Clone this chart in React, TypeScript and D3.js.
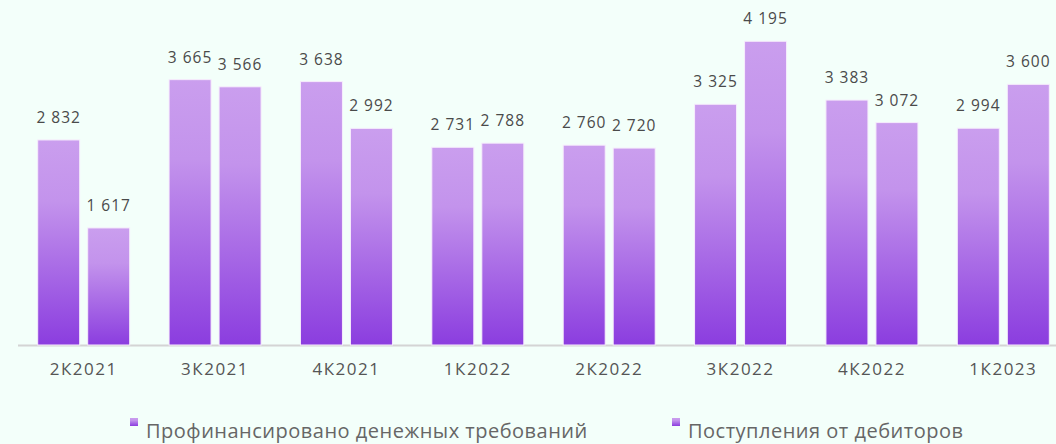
import React, { useRef, useEffect } from 'react';
import * as d3 from 'd3';

const categories = ['2К2021', '3К2021', '4К2021', '1К2022', '2К2022', '3К2022', '4К2022', '1К2023'];
const financed = [2832, 3665, 3638, 2731, 2760, 3325, 3383, 2994];
const receipts = [1617, 3566, 2992, 2788, 2720, 4195, 3072, 3600];
const seriesNames = ['Профинансировано денежных требований', 'Поступления от дебиторов'];

const W = 1056;
const H = 444;

const App: React.FC = () => {
	const svgRef = useRef<SVGSVGElement | null>(null);

	useEffect(() => {
		document.body.style.margin = '0';
		document.body.style.background = '#f3fffa';
		if (!svgRef.current) return;

		const svg = d3.select(svgRef.current);
		svg.selectAll('*').remove();

		const baseline = 345;
		const font = '"Open Sans", sans-serif';

		const x = d3.scaleBand<string>()
			.domain(categories)
			.range([18, 1069])
			.paddingInner(0)
			.paddingOuter(0);
		const inner = d3.scaleBand<number>()
			.domain([0, 1])
			.range([0, 92])
			.paddingInner(8 / 50);
		const y = d3.scaleLinear().domain([0, 4765]).range([baseline, 0]);

		svg.append('rect').attr('width', W).attr('height', H).attr('fill', '#f3fffa');

		const defs = svg.append('defs');
		const grad = defs.append('linearGradient')
			.attr('id', 'barGrad')
			.attr('x1', 0).attr('y1', 0).attr('x2', 0).attr('y2', 1);
		grad.append('stop').attr('offset', '0%').attr('stop-color', '#ca9eee');
		grad.append('stop').attr('offset', '30%').attr('stop-color', '#c393ec');
		grad.append('stop').attr('offset', '100%').attr('stop-color', '#8b3ddf');

		// axis line
		svg.append('line')
			.attr('x1', 18).attr('x2', W)
			.attr('y1', baseline + 0.5).attr('y2', baseline + 0.5)
			.attr('stroke', '#d4d4d4').attr('stroke-width', 2);

		const rows = categories.map((c, i) => ({ c, vals: [financed[i], receipts[i]] }));

		const groups = svg.append('g')
			.selectAll('g')
			.data(rows)
			.join('g')
			.attr('transform', d => `translate(${x(d.c)! + (x.bandwidth() - 92) / 2},0)`);

		groups.selectAll('rect')
			.data(d => d.vals.map((v, k) => ({ v, k })))
			.join('rect')
			.attr('x', d => inner(d.k)!)
			.attr('width', inner.bandwidth())
			.attr('y', d => y(d.v))
			.attr('height', d => baseline - y(d.v))
			.attr('fill', 'url(#barGrad)')
			.attr('stroke', '#f6ecfc')
			.attr('stroke-width', 1);

		const fmt = (v: number) => d3.format(',')(v).replace(/,/g, ' ');

		groups.selectAll('text.val')
			.data(d => d.vals.map((v, k) => ({ v, k })))
			.join('text')
			.attr('class', 'val')
			.attr('x', d => inner(d.k)! + inner.bandwidth() / 2)
			.attr('y', d => y(d.v) - 17)
			.attr('text-anchor', 'middle')
			.attr('font-family', font)
			.attr('font-size', 15.5)
			.attr('letter-spacing', 1)
			.attr('fill', '#4a4a4a')
			.text(d => fmt(d.v));

		// category labels
		svg.append('g')
			.selectAll('text')
			.data(categories)
			.join('text')
			.attr('x', d => x(d)! + x.bandwidth() / 2)
			.attr('y', 375)
			.attr('text-anchor', 'middle')
			.attr('font-family', font)
			.attr('font-size', 17)
			.attr('letter-spacing', 1.5)
			.attr('fill', '#555')
			.text(d => d);

		// legend
		const legendX = [130, 672];
		const legend = svg.append('g')
			.selectAll('g')
			.data(seriesNames)
			.join('g')
			.attr('transform', (d, i) => `translate(${legendX[i]},0)`);
		legend.append('rect')
			.attr('x', 0).attr('y', 418)
			.attr('width', 8).attr('height', 8)
			.attr('fill', 'url(#barGrad)');
		legend.append('text')
			.attr('x', 16).attr('y', 438)
			.attr('font-family', font)
			.attr('font-size', 20)
			.attr('letter-spacing', 0.5)
			.attr('fill', '#666')
			.text(d => d);

		return () => { svg.selectAll('*').remove(); };
	}, []);

	return <svg ref={svgRef} width={W} height={H} style={{ display: 'block' }} />;
};

export default App;
